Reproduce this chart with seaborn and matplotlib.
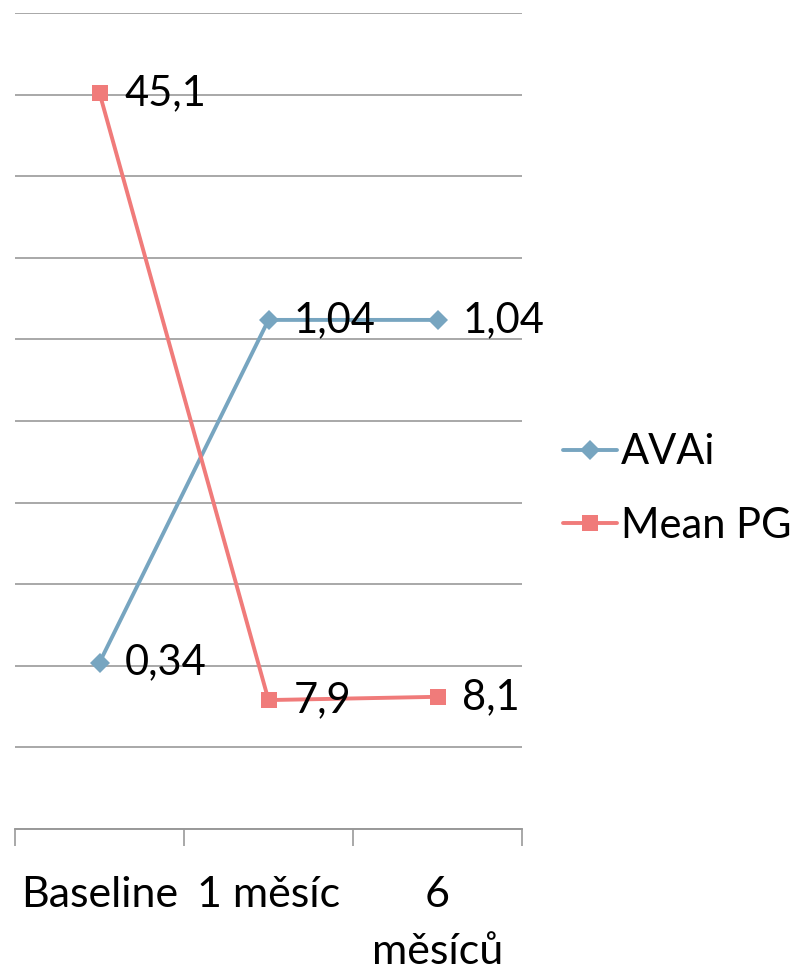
import numpy as np
import pandas as pd
import seaborn as sns
import matplotlib.pyplot as plt

categories = ['Baseline', '1 měsíc', '6\nměsíců']
avai = [0.34, 1.04, 1.04]
mean_pg = [45.1, 7.9, 8.1]
avai_labels = ['0,34', '1,04', '1,04']
pg_labels = ['45,1', '7,9', '8,1']

blue = '#77A5C0'
red = '#F07B7A'

sns.set_style('white')
plt.rcParams['font.family'] = ['Lato', 'DejaVu Sans']
plt.rcParams['text.color'] = 'black'

df = pd.DataFrame({'pos': range(len(categories)), 'AVAi': avai, 'Mean PG': mean_pg})

fig = plt.figure(figsize=(8.01, 9.69), dpi=100)
ax = fig.add_axes([15 / 801, 1 - 829 / 969, 507 / 801, 816 / 969])
ax2 = ax.twinx()

sns.lineplot(data=df, x='pos', y='AVAi', ax=ax, color=blue, linewidth=2.8,
             marker='D', markersize=10, markeredgewidth=0, label='AVAi', legend=False)
sns.lineplot(data=df, x='pos', y='Mean PG', ax=ax2, color=red, linewidth=2.8,
             marker='s', markersize=12, markeredgewidth=0, label='Mean PG', legend=False)

# hidden value axes: primary 0..1.667, secondary 0..50
ax.set_ylim(0, 1.667)
ax2.set_ylim(0, 50)
ax.set_yticks(np.linspace(0, 1.667, 11))
ax2.set_yticks([])
ax.set_yticklabels([])
ax.tick_params(axis='y', length=0)
ax.grid(axis='y', color='#999999', lw=1.2)
ax.set_axisbelow(True)

ax.set_xlim(-0.5, 2.5)
ax.set_xticks([-0.5, 0.5, 1.5, 2.5])
ax.set_xticklabels([])
ax.set_xticks(range(len(categories)), minor=True)
ax.set_xticklabels(categories, minor=True, fontsize=31, linespacing=1.6, color='black')
ax.tick_params(axis='x', which='major', bottom=True, length=12, width=1.2, color='#999999')
ax.tick_params(axis='x', which='minor', bottom=True, length=0, pad=34)
for lab in ax.get_xticklabels(minor=True):
    lab.set_verticalalignment('top')
ax.set_xlabel('')
ax.set_ylabel('')
ax2.set_ylabel('')

for a in (ax, ax2):
    for s in ('top', 'left', 'right'):
        a.spines[s].set_visible(False)
    a.spines['bottom'].set_color('#999999')
    a.spines['bottom'].set_linewidth(1.2)

for i, t in enumerate(avai_labels):
    ax.annotate(t, (i, avai[i]), xytext=(18, 0), textcoords='offset points',
                va='center', ha='left', fontsize=30, color='black')
for i, t in enumerate(pg_labels):
    ax2.annotate(t, (i, mean_pg[i]), xytext=(18, 0), textcoords='offset points',
                 va='center', ha='left', fontsize=30, color='black')

h1, l1 = ax.get_legend_handles_labels()
h2, l2 = ax2.get_legend_handles_labels()
fig.legend(h1 + h2, l1 + l2, loc='center left', bbox_to_anchor=(525 / 801, 1 - 489 / 969),
           frameon=False, fontsize=30, handlelength=1.3, handletextpad=0.1, labelspacing=0.85)

fig.savefig('out.png', dpi=100)
